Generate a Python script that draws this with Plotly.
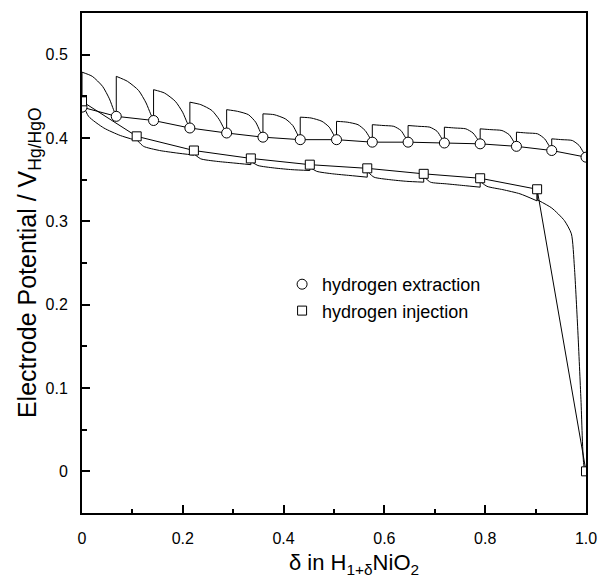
import plotly.graph_objects as go

# ---------------- data ----------------
# hydrogen extraction: equilibrium points (circles)
ext_x = [0.0, 0.068, 0.142, 0.214, 0.287, 0.359, 0.433, 0.505, 0.576, 0.647, 0.719, 0.790, 0.862, 0.932, 1.0]
ext_y = [0.437, 0.426, 0.421, 0.412, 0.406, 0.401, 0.398, 0.398, 0.395, 0.395, 0.394, 0.393, 0.390, 0.385, 0.377]
# transient during each extraction step: peak, then values at 30/60/80/92 % of the step
ext_frac = [0.0, 0.3, 0.6, 0.8, 0.92]
ext_tr = [
    [0.479, 0.474, 0.462, 0.447, 0.434],
    [0.474, 0.468, 0.457, 0.442, 0.429],
    [0.458, 0.454, 0.444, 0.431, 0.419],
    [0.443, 0.440, 0.433, 0.422, 0.412],
    [0.434, 0.432, 0.428, 0.419, 0.408],
    [0.429, 0.428, 0.423, 0.415, 0.405],
    [0.425, 0.424, 0.420, 0.413, 0.404],
    [0.420, 0.419, 0.416, 0.409, 0.401],
    [0.416, 0.415, 0.414, 0.409, 0.401],
    [0.415, 0.414, 0.413, 0.408, 0.400],
    [0.413, 0.412, 0.411, 0.406, 0.399],
    [0.411, 0.410, 0.409, 0.404, 0.396],
    [0.407, 0.406, 0.405, 0.399, 0.391],
    [0.399, 0.398, 0.397, 0.391, 0.383],
]

# hydrogen injection: equilibrium points (squares)
inj_x = [0.0, 0.1085, 0.222, 0.335, 0.452, 0.566, 0.678, 0.790, 0.903, 1.0]
inj_y = [0.444, 0.402, 0.385, 0.3755, 0.368, 0.3636, 0.357, 0.3517, 0.3385, 0.0]
# transient during each injection step: values at 0/12/40/70/100 % of the step
inj_frac = [0.0, 0.12, 0.4, 0.7, 1.0]
inj_tr = [
    [0.444, 0.426, 0.412, 0.403, 0.397],
    [0.398, 0.390, 0.385, 0.382, 0.3795],
    [0.381, 0.375, 0.372, 0.370, 0.368],
    [0.372, 0.367, 0.364, 0.362, 0.361],
    [0.365, 0.360, 0.357, 0.355, 0.353],
    [0.360, 0.353, 0.350, 0.348, 0.347],
    [0.354, 0.347, 0.345, 0.343, 0.341],
    [0.348, 0.342, 0.338, 0.333, 0.3245],
]
# last injection step (drop to zero)
inj_tail_x = [0.903, 0.932, 0.957, 0.971, 0.977, 0.984, 0.990, 0.996, 1.0]
inj_tail_y = [0.326, 0.316, 0.301, 0.285, 0.245, 0.166, 0.086, 0.006, 0.0]

x_ticks = [0, 0.2, 0.4, 0.6, 0.8, 1.0]
x_ticktext = ["0", "0.2", "0.4", "0.6", "0.8", "1.0"]
y_ticks = [0, 0.1, 0.2, 0.3, 0.4, 0.5]
y_ticktext = ["0", "0.1", "0.2", "0.3", "0.4", "0.5"]

# ---------------- build traces ----------------
FONT = "Liberation Sans, Arial, sans-serif"
LINE = dict(color="black", width=1)

fig = go.Figure()

# extraction transients (smooth curves) and vertical jumps
tx, ty, jx, jy = [], [], [], []
for k, seg in enumerate(ext_tr):
    x0, x1 = ext_x[k], ext_x[k + 1]
    for f, v in zip(ext_frac, seg):
        tx.append(x0 + f * (x1 - x0))
        ty.append(v)
    tx.append(x1)
    ty.append(ext_y[k + 1])
    tx.append(None)
    ty.append(None)
    jx += [x0, x0, None]
    jy += [ext_y[k], seg[0], None]
fig.add_trace(go.Scatter(x=tx, y=ty, mode="lines", line=dict(shape="spline", smoothing=0.6, **LINE),
                         showlegend=False, hoverinfo="skip"))
fig.add_trace(go.Scatter(x=jx, y=jy, mode="lines", line=LINE, showlegend=False, hoverinfo="skip"))

# injection transients
tx, ty, jx, jy = [], [], [], []
for k, seg in enumerate(inj_tr):
    x0, x1 = inj_x[k], inj_x[k + 1]
    for f, v in zip(inj_frac, seg):
        tx.append(x0 + f * (x1 - x0))
        ty.append(v)
    tx.append(None)
    ty.append(None)
    jx += [x0, x0, None, x1, x1, None]
    jy += [inj_y[k], seg[0], None, seg[-1], inj_y[k + 1], None]
tx += inj_tail_x
ty += inj_tail_y
jx += [inj_x[8], inj_x[8], None]
jy += [inj_y[8], inj_tail_y[0], None]
fig.add_trace(go.Scatter(x=tx, y=ty, mode="lines", line=dict(shape="spline", smoothing=0.6, **LINE),
                         showlegend=False, hoverinfo="skip"))
fig.add_trace(go.Scatter(x=jx, y=jy, mode="lines", line=LINE, showlegend=False, hoverinfo="skip"))

# equilibrium lines with markers
fig.add_trace(go.Scatter(x=ext_x, y=ext_y, mode="lines", line=LINE, showlegend=False, hoverinfo="skip"))
fig.add_trace(go.Scatter(x=inj_x, y=inj_y, mode="lines", line=LINE, showlegend=False, hoverinfo="skip"))
fig.add_trace(go.Scatter(x=ext_x, y=ext_y, mode="markers", name="hydrogen extraction",
                         marker=dict(symbol="circle", size=10, color="white", line=dict(color="black", width=1))))
fig.add_trace(go.Scatter(x=inj_x, y=inj_y, mode="markers", name="hydrogen injection",
                         marker=dict(symbol="square", size=9, color="white", line=dict(color="black", width=1))))

axis_common = dict(
    showgrid=False, zeroline=False, showline=True, linecolor="black", linewidth=2, mirror=True,
    ticks="inside", tickcolor="black", tickwidth=1.5, ticklen=8,
    tickfont=dict(family=FONT, size=16, color="black"),
)
fig.update_xaxes(range=[0, 1.0], tickvals=x_ticks, ticktext=x_ticktext, ticklabelstandoff=10,
                 minor=dict(dtick=0.1, ticks="inside", ticklen=4, tickcolor="black", tickwidth=1.5),
                 **axis_common)
fig.update_yaxes(range=[-0.05, 0.55], tickvals=y_ticks, ticktext=y_ticktext, ticklabelstandoff=9,
                 minor=dict(dtick=0.05, tick0=0, ticks="inside", ticklen=5, tickcolor="black", tickwidth=1.5),
                 **axis_common)

fig.update_layout(
    width=608, height=578,
    margin=dict(l=82, r=13, t=11, b=65),
    paper_bgcolor="white", plot_bgcolor="white",
    font=dict(family=FONT, color="black"),
    legend=dict(x=0.397, y=0.494, xanchor="left", yanchor="top", bgcolor="rgba(0,0,0,0)",
                font=dict(family=FONT, size=18, color="black"), tracegroupgap=0),
    annotations=[
        dict(text="δ in H<sub>1+δ</sub>NiO<sub>2</sub>", xref="paper", yref="paper",
             x=0.54, y=-0.07, xanchor="center", yanchor="top", showarrow=False,
             font=dict(family=FONT, size=22, color="black")),
        dict(text="Electrode Potential / V<sub>Hg/HgO</sub>", xref="paper", yref="paper",
             x=-0.105, y=0.5, xanchor="center", yanchor="middle", textangle=-90, showarrow=False,
             font=dict(family=FONT, size=25, color="black")),
    ],
)

fig.write_html("out.html", config={"displayModeBar": False},
               post_script="document.body.style.margin='0';document.body.style.padding='0';")
